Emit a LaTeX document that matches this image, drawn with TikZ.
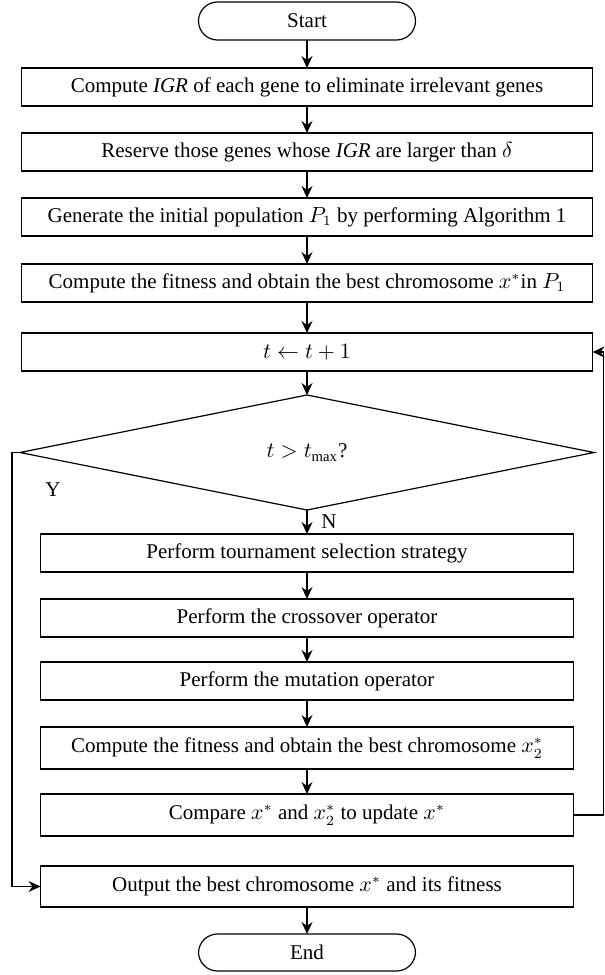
\documentclass[tikz,border=0pt]{standalone}
\usepackage{amsmath,amssymb}
\usepackage{fontspec}
\setmainfont{Liberation Serif}
\usepackage{tikz}
\usetikzlibrary{shapes.geometric, arrows.meta, positioning}
\tikzstyle{arrow} = [line width=0.6pt, -{Stealth[length=6pt,width=5.5pt,inset=2pt]}, black]
\tikzstyle{stepbox} = [rectangle, draw=black, line width=0.6pt, outer sep=0pt, minimum width=285.5pt, minimum height=19pt,
                        inner sep=0pt, text centered, fill=white, font=\fontsize{10.5}{12}\selectfont]
\tikzstyle{loopbox} = [stepbox, minimum width=266.5pt]
\tikzstyle{terminal} = [rectangle, rounded corners=9.5pt, draw=black, line width=0.6pt, outer sep=0pt, minimum width=108.5pt,
                        minimum height=19pt, inner sep=0pt, text centered, font=\fontsize{10.5}{12}\selectfont]
\tikzstyle{decision} = [diamond, draw=black, line width=0.6pt, outer sep=0pt, minimum width=287pt, minimum height=57.5pt,
                        inner sep=0pt, text centered, font=\fontsize{10.5}{12}\selectfont]

\begin{document}
\begin{tikzpicture}[x=0.5pt, y=-0.5pt]
    \useasboundingbox (0,0) rectangle (605,975);

    % Initialisation steps
    \node[terminal] (start) at (307,21) {Start};
    \node[stepbox, below=14pt of start] (igr) {Compute \textit{IGR} of each gene to eliminate irrelevant genes};
    \node[stepbox, below=13.5pt of igr] (keep) {Reserve those genes whose \textit{IGR} are larger than $\delta$};
    \node[stepbox, below=13.5pt of keep] (init) {Generate the initial population $P_1$ by performing Algorithm 1};
    \node[stepbox, below=14pt of init] (best) {Compute the fitness and obtain the best chromosome $x^{*}$in $P_1$};
    \node[stepbox, below=15.5pt of best] (inc) {$t \leftarrow t + 1$};
    \node[decision, below=12pt of inc] (test) {$t > t_{\max}$?};

    % Genetic operators
    \node[loopbox, below=12pt of test] (sel) {Perform tournament selection strategy};
    \node[loopbox, below=13.5pt of sel] (cross) {Perform the crossover operator};
    \node[loopbox, below=12.5pt of cross] (mut) {Perform the mutation operator};
    \node[loopbox, minimum height=21pt, below=13.5pt of mut] (fit) {Compute the fitness and obtain the best chromosome $x_2^{*}$};
    \node[loopbox, minimum height=21pt, below=12.5pt of fit] (cmp) {Compare $x^{*}$ and $x_2^{*}$ to update $x^{*}$};
    \node[loopbox, minimum height=20.5pt, below=15pt of cmp] (out) {Output the best chromosome $x^{*}$ and its fitness};
    \node[terminal, minimum height=18.5pt, below=13.5pt of out] (stop) {End};

    % Arrows
    \draw[arrow] (start) -- (igr);
    \draw[arrow] (igr) -- (keep);
    \draw[arrow] (keep) -- (init);
    \draw[arrow] (init) -- (best);
    \draw[arrow] (best) -- (inc);
    \draw[arrow] (inc) -- (test);
    \draw[arrow] (test) -- (sel);
    \draw[arrow] (sel) -- (cross);
    \draw[arrow] (cross) -- (mut);
    \draw[arrow] (mut) -- (fit);
    \draw[arrow] (fit) -- (cmp);
    \draw[arrow] (out) -- (stop);
    \draw[arrow] (cmp.east) -- ++(15pt,0) |- (inc.east);
    \draw[arrow] (test.west) -- ++(-4pt,0) |- (out.west);

    % Branch labels
    \node[font=\fontsize{10.5}{12}\selectfont] (yes) at (53,490) {Y};
    \node[font=\fontsize{10.5}{12}\selectfont] (no) at (329,522) {N};
\end{tikzpicture}
\end{document}
